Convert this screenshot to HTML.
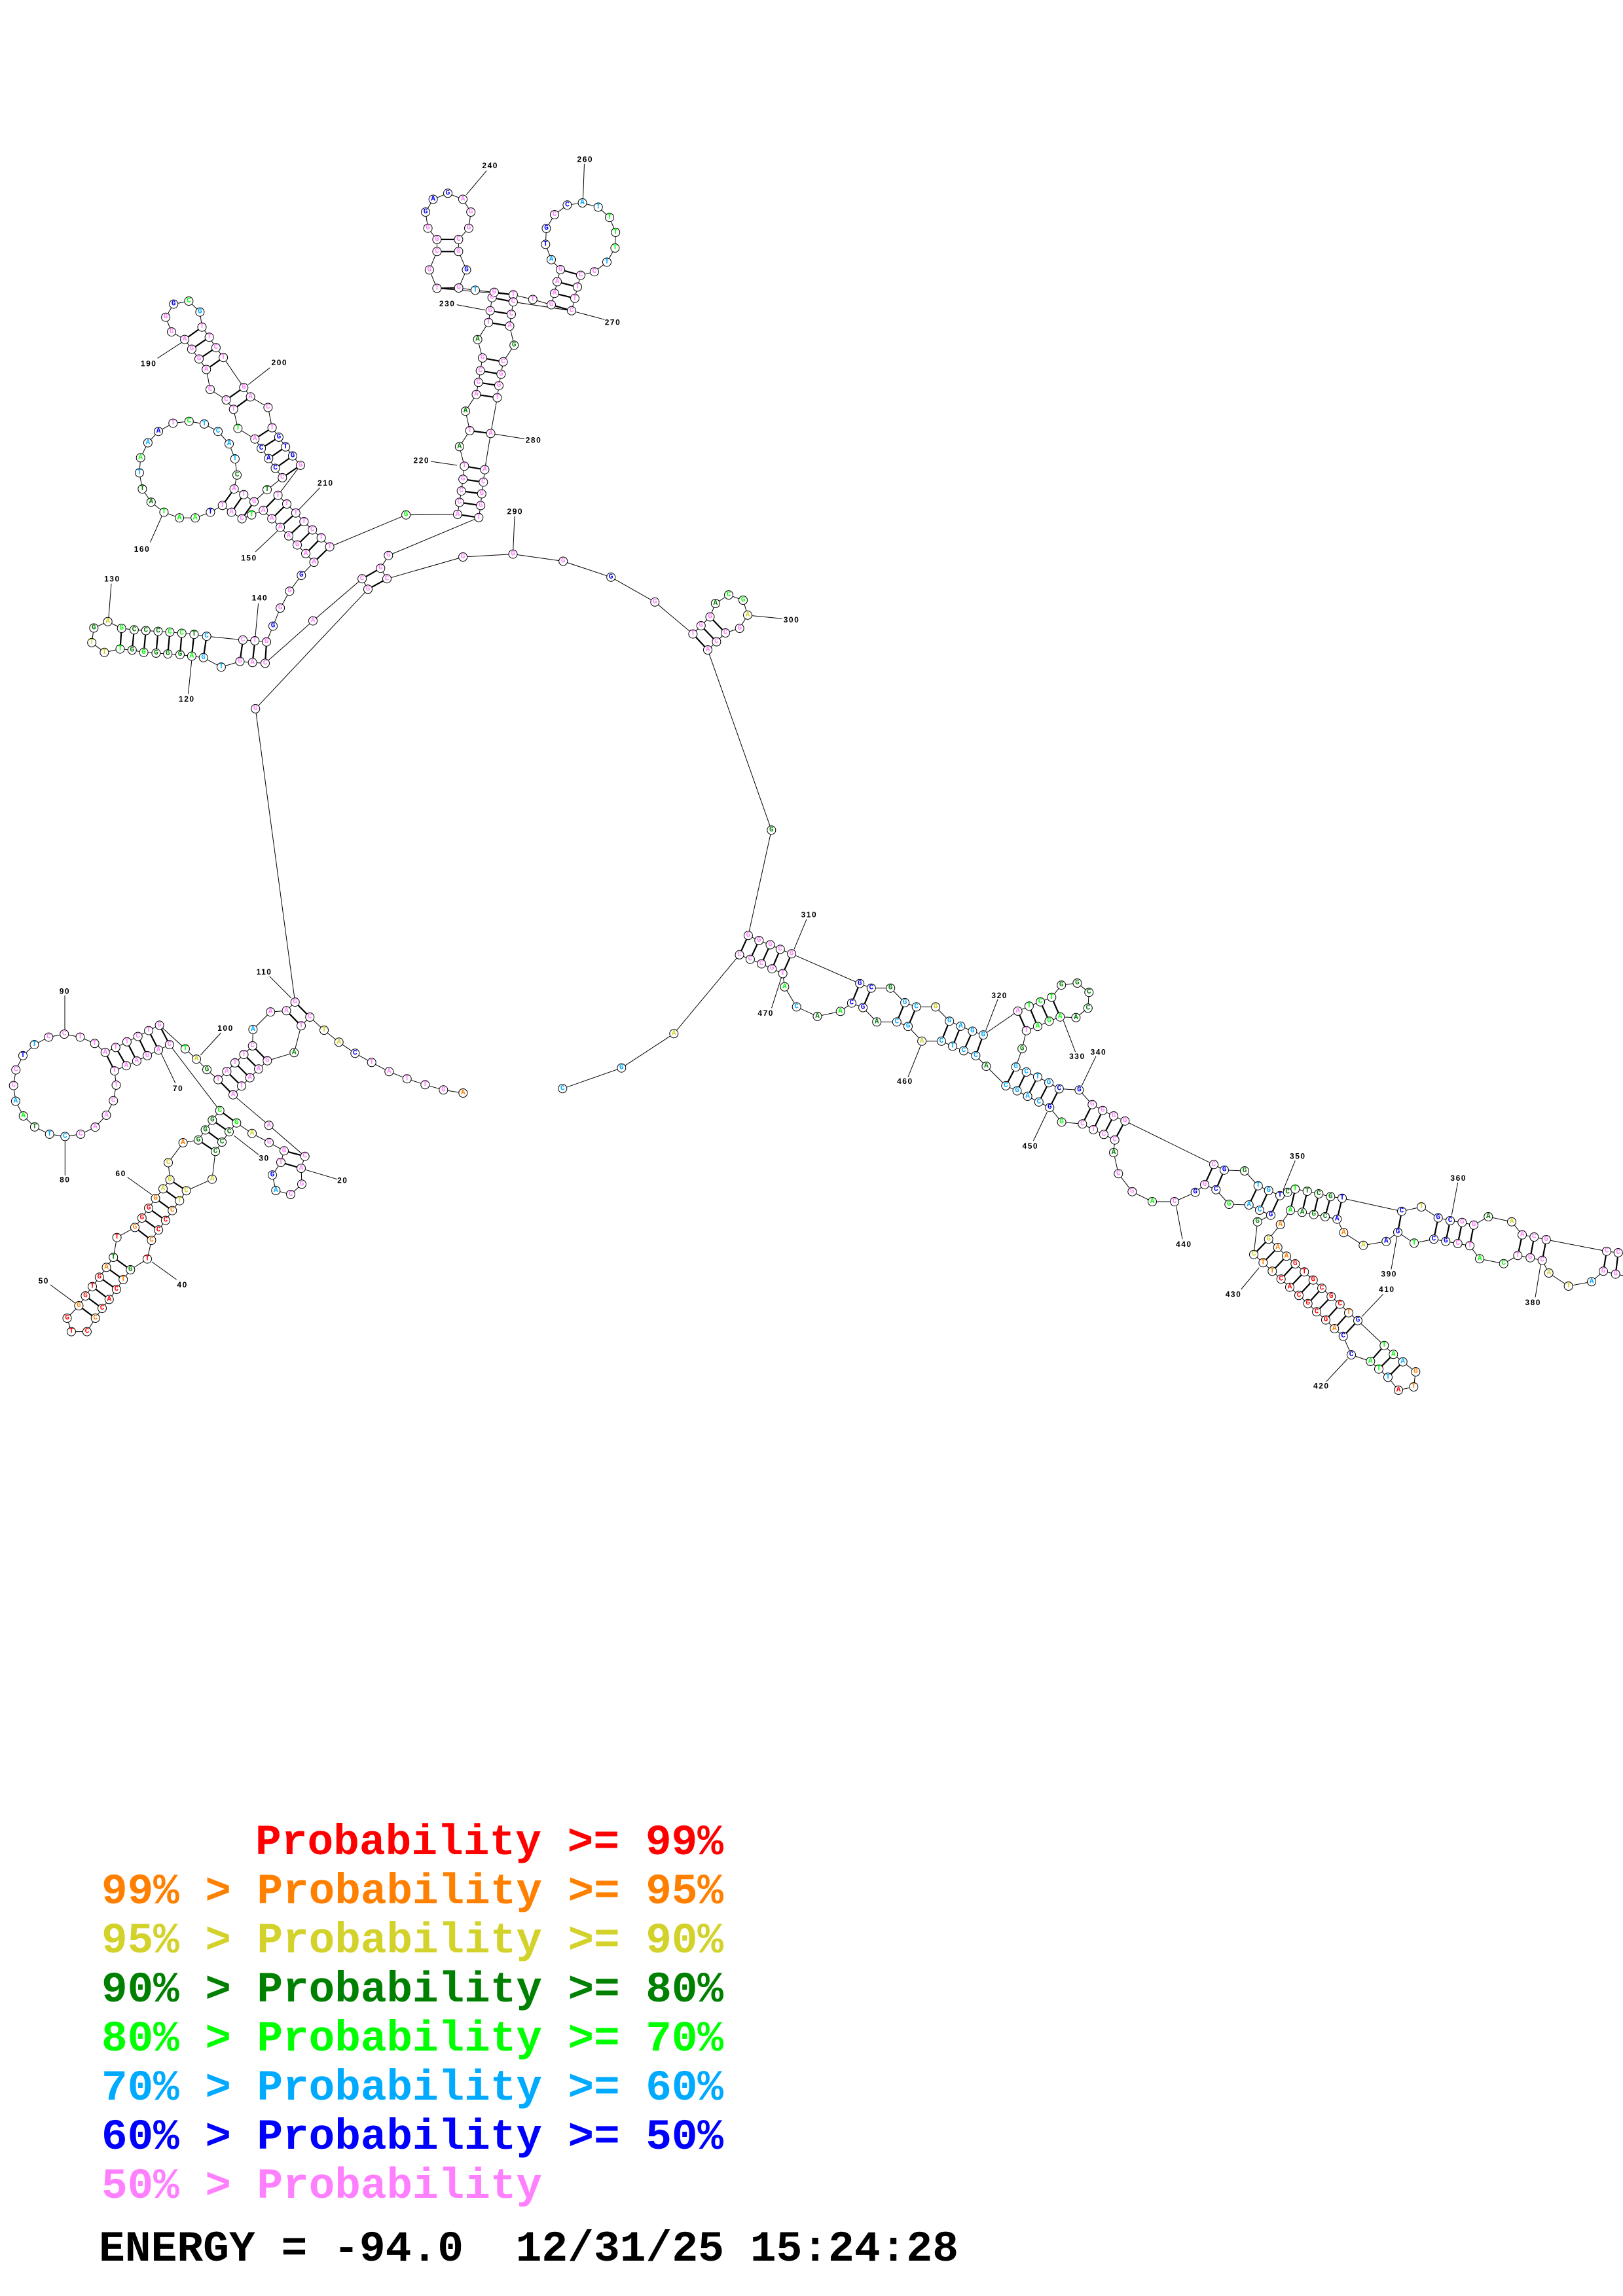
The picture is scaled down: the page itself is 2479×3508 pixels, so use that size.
<!DOCTYPE html>
<html><head><meta charset="utf-8"><title>RNA structure</title>
<style>
html,body{margin:0;padding:0;background:#fff;}
svg{display:block;}
.bb{fill:none;stroke:#000;stroke-width:1;}
.pr{fill:none;stroke:#000;stroke-width:2.2;}
.ll{fill:none;stroke:#000;stroke-width:1;}
.nc circle{fill:#fff;stroke:#000;stroke-width:1;}
.nt text{font-family:"Liberation Mono",monospace;font-weight:bold;font-size:11px;text-anchor:middle;dominant-baseline:central;}
.lb text{font-family:"Liberation Sans",sans-serif;font-weight:bold;font-size:12px;text-anchor:middle;dominant-baseline:central;letter-spacing:1.5px;fill:#000;}
.lg text{font-family:"Liberation Mono",monospace;font-weight:bold;font-size:66px;white-space:pre;}
.p{fill:#ff80ff}.b{fill:#0000ff}.s{fill:#00aaff}.l{fill:#00ff00}.g{fill:#008000}.y{fill:#d2d22a}.o{fill:#ff8000}.r{fill:#ff0000}.k{fill:#000}
</style></head>
<body>
<svg width="2479" height="3508" viewBox="0 0 2479 3508" xmlns="http://www.w3.org/2000/svg">
<rect width="2479" height="3508" fill="#fff"/>
<polyline class="bb" points="707.3,1670 677.3,1665.3 649.3,1657.3 621.7,1648.3 594.3,1637.3 567.7,1623.3 542.3,1609.3 517.7,1592.3 495,1574 473.3,1554 460,1567.3 449.3,1608.3 408.3,1620.7 395,1633.3 381.7,1646.7 369,1659.3 356,1672.7 410.7,1719.3 465.7,1766.7 460,1785 461,1809.3 444,1825 421.3,1819 416,1795.3 429,1776 434,1758.3 411,1745.7 385,1731.7 361.3,1715.7 350,1729.3 339,1745 329,1759.3 324,1801.7 284.6,1819.3 274.3,1834.6 263.2,1849.6 252.9,1864.6 242.1,1879.3 231.4,1895 225,1923.6 199.3,1940 188.2,1955 177.9,1970 166.8,1985.4 156,1999 145.7,2014 132.9,2034.6 109,2034.6 102.5,2014 120.4,1995 130.4,1980 141,1965.7 151.8,1951.4 162.5,1936.4 173.2,1921 178.6,1890.7 206,1875.4 216.8,1861 227,1846 237.5,1831 249,1816.4 259.6,1802.5 257,1776.4 279.6,1746 302.9,1741.8 313.6,1726.4 324.3,1711.4 335.7,1696.8 258.9,1596.1 242.1,1604.3 225,1612.9 208.9,1621.1 192.9,1628.2 175,1636.1 177.5,1657.9 173.2,1681.8 162.5,1703.9 145.4,1722.1 123.2,1732.9 99.3,1736.4 75.7,1732.9 52.9,1721.8 35.7,1705 23.9,1682.5 20.7,1658.6 24.3,1634.6 35,1612.9 52.5,1596.1 74.3,1584.6 98.2,1580 122.5,1584.6 144.6,1594.3 160.7,1607.9 176.8,1600.4 193.9,1591.8 210.7,1583.6 227.1,1574.6 243.6,1566.4 282.9,1602.5 300,1618.2 316,1634.3 333.2,1649.6 346.4,1637.1 358.9,1623.9 372.5,1611.1 385.7,1597.9 386.4,1572.9 413.2,1546.1 437.5,1544.3 450.7,1531.1 390.2,1082.9 562,900.3 553.1,884.3 478,948.6 405,1013.4 385.7,1012.3 366.5,1010.6 337.9,1019.2 310.7,1004.8 292.9,1002.5 275,1000.2 256.3,999.1 238.4,997.9 219.6,996.8 201.8,993.3 183.5,991.6 159.4,996.8 140.2,981.9 143.3,959.5 164.7,949.7 185.7,960 204.9,962.3 222.8,963.5 241.5,964.6 259.4,965.8 277.7,967.5 296.4,969.2 315.6,972.1 371,977.8 389.3,979 407.1,980.7 417,956.6 428.1,929 442.4,903.2 460.3,879.1 479.5,859 467,845.8 454,832.6 441,818.8 428.1,805.6 415.2,792.6 402.2,779.8 384.4,786.7 369.6,792.6 353.6,782.6 339.7,772.3 321.4,782.6 298.2,791.3 274.1,791.3 250.4,782.6 230.8,767.2 217.4,747.1 212.9,722.4 214.7,699.4 225.9,676.5 242,659.2 264.3,646.6 288.8,643.7 312,647.8 333,659.2 350,678.2 358.9,701.1 362,725.8 357.6,747.1 372.3,755.7 388,766.6 408,748.2 431.3,729.9 420.5,715.5 410.3,700.6 399.1,685.1 389.3,670.7 363.4,654.6 356.7,625.4 345.5,611 321,595 315.2,564.5 304,548.5 292.9,533.5 282.1,518.6 262,507.1 253.1,484.7 265.2,464.6 288.4,460 305.4,476.7 308.5,499.7 319.6,515.2 329.9,531.2 341.1,546.2 372.3,592.1 382.6,606.4 409.4,622.5 415.6,653.5 425.9,667.9 436.2,682.8 446.9,696.6 458.9,710.9 424.6,756.8 438,770 451.8,783.8 464.3,797 477.2,809.6 490.6,821.7 503.6,835.5 620.1,786.7 698.9,785.9 701.8,767.5 704.7,750.1 707.2,732.2 709.3,712.2 701.8,682.4 717.6,658 711,628.2 727.5,602.7 730.8,584.3 733.7,566.4 737,546.9 729.6,518.7 746.2,492.7 748.7,474.8 751.6,454.7 754.9,446.6 725.9,443.4 700.6,440 712.5,412.4 700.4,384.3 700.4,365.9 716,348.7 719.2,324 707,304.5 684,295.3 661.6,304.5 650,324 653.6,348.7 667.4,365.9 667.4,384.3 655.8,412.4 667.4,440.5 783.9,450.4 813.8,457.5 842,465.6 847,448.2 851,430.4 856,412 842,396.7 833.3,373.4 834.5,349 847,328 866.4,313.3 889.6,310 913.7,316.5 931,332.2 940.2,355 939.4,378.9 927,400.5 907.9,415.2 887,420.6 882,438.5 878,455.8 873,474.8 783.9,461.2 781,480.2 778.5,498.1 785.2,527.4 768.6,552.8 765.3,571.8 762,589.2 759.5,607.6 749.5,662.3 740.4,717.6 738.3,736.6 735.8,754.5 734.2,772.4 731.3,790.8 593.3,848.7 581.3,868.2 591,884.3 707.1,851 783.5,846.6 860.2,857.5 933.2,881.8 1000.3,919.8 1058.4,968.6 1070.8,956 1084.5,942.5 1092.8,922 1113,909 1135,917 1142,939.8 1129.7,960 1108,967 1094.4,980.5 1081,993 1178.3,1268.3 1142.9,1429.3 1159.3,1437 1176.5,1443.5 1191.8,1450.4 1209.1,1457.3 1313.2,1502.8 1330.8,1509.7 1360.2,1509.7 1382.1,1531.9 1399.7,1538.4 1429.1,1538.4 1450.2,1560.2 1467.4,1567.9 1485.4,1575.5 1501.8,1581.3 1554.6,1544.9 1571.9,1537.2 1589.1,1530.7 1606.3,1523.8 1621.2,1505.1 1645.4,1502 1663.3,1516.2 1661.8,1540.3 1643.4,1554.8 1619.3,1553.7 1602.5,1560.2 1584.9,1568.2 1567.7,1574.7 1561.2,1602.3 1551.6,1630.2 1567.7,1637.9 1584.9,1645.5 1602.1,1654.3 1617.8,1663.5 1648.4,1665.4 1668.3,1687.7 1684.3,1696.7 1701,1705 1718.3,1712.7 1854,1779.3 1870,1787.7 1901,1789 1921.7,1811.7 1937.7,1819 1955,1826.7 1966.7,1821.7 1978.3,1816.7 1996.7,1820 2014.3,1824 2032.3,1828.3 2050,1830.7 2141,1850.7 2171,1844 2196.7,1860.7 2215,1865 2233.3,1867.7 2251,1871.7 2273.3,1859 2309,1866.7 2325,1886.7 2343.3,1890 2361.7,1894 2454,1911.7 2471.7,1914 2490,1917 2508,1921 2516,1935 2504,1948 2486,1950 2467.7,1946.7 2449,1942.3 2431,1958.3 2395.7,1965 2365.7,1945 2355.7,1925.7 2337.3,1921.7 2318.3,1918.3 2296.7,1930.7 2260,1923.3 2245,1903.3 2226.7,1900 2208.3,1896.7 2190,1893.3 2160,1899.3 2135,1882.7 2117.3,1896.7 2082.3,1902.7 2052.3,1883.3 2042.3,1862.7 2024,1859 2006.7,1855.7 1989,1852.3 1971,1849.3 1955.7,1871 1937.7,1893.3 1951.7,1906 1965,1919.3 1978.3,1931 1992.3,1943.3 2005.7,1955.7 2019,1968.3 2033.3,1981 2046.7,1992.7 2060,2005.7 2074,2017.7 2114.3,2055.7 2128.3,2069.3 2142.7,2080.7 2162.3,2096 2159.3,2119 2136,2124 2120,2104.3 2106,2091.7 2093.3,2080 2064,2070 2051.7,2041.7 2038.3,2030 2025,2016.7 2011,2004.3 1997.7,1991.7 1984,1979.3 1970,1966.7 1956.7,1954.3 1943.3,1942.3 1929.3,1929.3 1915,1916.7 1920.7,1866.7 1941,1856.7 1924,1849 1907.7,1841 1877.3,1840 1857.3,1817.7 1840,1810 1825.7,1821.7 1794,1836 1760,1836 1729.3,1820.7 1708.3,1793.3 1701,1761 1702.7,1741.7 1686,1733.3 1670,1726 1653.3,1717.3 1621.6,1714.4 1603.3,1692.2 1586.8,1683.8 1569.6,1675 1553.5,1666.6 1536.3,1658.9 1506.4,1629.1 1490.4,1613 1472,1605.4 1455.1,1598.5 1437.9,1590.8 1408.1,1590.8 1387,1568.2 1369.8,1561.4 1339.2,1561.4 1318.1,1539.5 1300.9,1532.6 1283.7,1545.3 1248.5,1552.9 1216.7,1538.4 1198.4,1507.8 1195.7,1487.5 1179.2,1480.2 1163.1,1472.6 1145.9,1465.7 1129.5,1458.8 1029.3,1579.3 949.3,1631.7 859.3,1663.3"/>
<path class="pr" d="M473.3 1554L450.7 1531.1M460 1567.3L437.5 1544.3M408.3 1620.7L385.7 1597.9M395 1633.3L372.5 1611.1M381.7 1646.7L358.9 1623.9M369 1659.3L346.4 1637.1M356 1672.7L333.2 1649.6M465.7 1766.7L434 1758.3M460 1785L429 1776M361.3 1715.7L335.7 1696.8M350 1729.3L324.3 1711.4M339 1745L313.6 1726.4M329 1759.3L302.9 1741.8M284.6 1819.3L259.6 1802.5M274.3 1834.6L249 1816.4M263.2 1849.6L237.5 1831M252.9 1864.6L227 1846M242.1 1879.3L216.8 1861M231.4 1895L206 1875.4M199.3 1940L173.2 1921M188.2 1955L162.5 1936.4M177.9 1970L151.8 1951.4M166.8 1985.4L141 1965.7M156 1999L130.4 1980M145.7 2014L120.4 1995M258.9 1596.1L243.6 1566.4M242.1 1604.3L227.1 1574.6M225 1612.9L210.7 1583.6M208.9 1621.1L193.9 1591.8M192.9 1628.2L176.8 1600.4M175 1636.1L160.7 1607.9M405 1013.4L407.1 980.7M385.7 1012.3L389.3 979M366.5 1010.6L371 977.8M310.7 1004.8L315.6 972.1M292.9 1002.5L296.4 969.2M275 1000.2L277.7 967.5M256.3 999.1L259.4 965.8M238.4 997.9L241.5 964.6M219.6 996.8L222.8 963.5M201.8 993.3L204.9 962.3M183.5 991.6L185.7 960M479.5 859L503.6 835.5M467 845.8L490.6 821.7M454 832.6L477.2 809.6M441 818.8L464.3 797M428.1 805.6L451.8 783.8M415.2 792.6L438 770M402.2 779.8L424.6 756.8M369.6 792.6L388 766.6M353.6 782.6L372.3 755.7M339.7 772.3L357.6 747.1M431.3 729.9L458.9 710.9M420.5 715.5L446.9 696.6M410.3 700.6L436.2 682.8M399.1 685.1L425.9 667.9M389.3 670.7L415.6 653.5M356.7 625.4L382.6 606.4M345.5 611L372.3 592.1M315.2 564.5L341.1 546.2M304 548.5L329.9 531.2M292.9 533.5L319.6 515.2M282.1 518.6L308.5 499.7M562 900.3L591 884.3M553.1 884.3L581.3 868.2M698.9 785.9L731.3 790.8M701.8 767.5L734.2 772.4M704.7 750.1L735.8 754.5M707.2 732.2L738.3 736.6M709.3 712.2L740.4 717.6M717.6 658L749.5 662.3M727.5 602.7L759.5 607.6M730.8 584.3L762 589.2M733.7 566.4L765.3 571.8M737 546.9L768.6 552.8M746.2 492.7L778.5 498.1M748.7 474.8L781 480.2M751.6 454.7L783.9 461.2M754.9 446.6L783.9 450.4M700.6 440L667.4 440.5M700.4 384.3L667.4 384.3M700.4 365.9L667.4 365.9M842 465.6L873 474.8M847 448.2L878 455.8M851 430.4L882 438.5M856 412L887 420.6M1058.4 968.6L1081 993M1070.8 956L1094.4 980.5M1084.5 942.5L1108 967M1142.9 1429.3L1129.5 1458.8M1159.3 1437L1145.9 1465.7M1176.5 1443.5L1163.1 1472.6M1191.8 1450.4L1179.2 1480.2M1209.1 1457.3L1195.7 1487.5M1313.2 1502.8L1300.9 1532.6M1330.8 1509.7L1318.1 1539.5M1382.1 1531.9L1369.8 1561.4M1399.7 1538.4L1387 1568.2M1450.2 1560.2L1437.9 1590.8M1467.4 1567.9L1455.1 1598.5M1485.4 1575.5L1472 1605.4M1501.8 1581.3L1490.4 1613M1554.6 1544.9L1567.7 1574.7M1571.9 1537.2L1584.9 1568.2M1589.1 1530.7L1602.5 1560.2M1606.3 1523.8L1619.3 1553.7M1551.6 1630.2L1536.3 1658.9M1567.7 1637.9L1553.5 1666.6M1584.9 1645.5L1569.6 1675M1602.1 1654.3L1586.8 1683.8M1617.8 1663.5L1603.3 1692.2M1668.3 1687.7L1653.3 1717.3M1684.3 1696.7L1670 1726M1701 1705L1686 1733.3M1718.3 1712.7L1702.7 1741.7M1854 1779.3L1840 1810M1870 1787.7L1857.3 1817.7M1921.7 1811.7L1907.7 1841M1937.7 1819L1924 1849M1955 1826.7L1941 1856.7M1978.3 1816.7L1971 1849.3M1996.7 1820L1989 1852.3M2014.3 1824L2006.7 1855.7M2032.3 1828.3L2024 1859M2050 1830.7L2042.3 1862.7M2141 1850.7L2135 1882.7M2196.7 1860.7L2190 1893.3M2215 1865L2208.3 1896.7M2233.3 1867.7L2226.7 1900M2251 1871.7L2245 1903.3M2325 1886.7L2318.3 1918.3M2343.3 1890L2337.3 1921.7M2361.7 1894L2355.7 1925.7M2454 1911.7L2449 1942.3M2471.7 1914L2467.7 1946.7M1937.7 1893.3L1915 1916.7M1951.7 1906L1929.3 1929.3M1965 1919.3L1943.3 1942.3M1978.3 1931L1956.7 1954.3M1992.3 1943.3L1970 1966.7M2005.7 1955.7L1984 1979.3M2019 1968.3L1997.7 1991.7M2033.3 1981L2011 2004.3M2046.7 1992.7L2025 2016.7M2060 2005.7L2038.3 2030M2074 2017.7L2051.7 2041.7M2114.3 2055.7L2093.3 2080M2128.3 2069.3L2106 2091.7M2142.7 2080.7L2120 2104.3"/>
<path class="ll" d="M466.7 1787.3L515 1801.7M357.3 1735L395 1764.3M232 1928L269.6 1955M76.8 1962.9L114.3 1990.7M194.6 1798.6L232 1825.4M246.4 1610L267.9 1655M99.3 1743.6L99.3 1796M99 1521L99 1573M306.4 1612L337.5 1578M411.7 1491.7L445 1525M292.9 1008L287.5 1060M170 891.7L166 943M394.6 922L390 972M390.2 843L423.7 811.4M229.5 828.6L247.3 788.4M240.6 547.3L278.6 522.6M412.5 561.7L379.4 587.5M488.4 745.4L452.7 782.6M658 705L698.2 710.9M697.7 465.6L741.2 473.7M743.3 260.7L712.2 297.6M892.5 250.4L890.5 303M873 474.8L923.6 488.3M749.5 662.3L801.3 670.5M786 789L783.5 846.6M1142 940L1195 945.3M1232 1404.4L1212.9 1450.4M1524 1526.9L1505.6 1574.7M1642.6 1607.3L1624.3 1559.4M1674 1613.8L1652.2 1659M1978.3 1773.3L1960 1818.3M2226.7 1806.7L2217.3 1856.7M2345 1982.3L2353.3 1931.7M2125 1939.3L2134 1888.3M2112.7 1977.3L2080 2011.7M2026 2110.7L2058.3 2076M1895.7 1970L1923.3 1936.7M1796.7 1843.3L1806 1893.3M1578.4 1743.1L1599.4 1699.1M1387 1645.5L1406.2 1597.7M1178.5 1540.3L1193.8 1492.5"/>
<g class="nc">
<circle cx="707.3" cy="1670" r="6.5"/><circle cx="677.3" cy="1665.3" r="6.5"/><circle cx="649.3" cy="1657.3" r="6.5"/><circle cx="621.7" cy="1648.3" r="6.5"/><circle cx="594.3" cy="1637.3" r="6.5"/><circle cx="567.7" cy="1623.3" r="6.5"/><circle cx="542.3" cy="1609.3" r="6.5"/><circle cx="517.7" cy="1592.3" r="6.5"/><circle cx="495" cy="1574" r="6.5"/><circle cx="473.3" cy="1554" r="6.5"/>
<circle cx="460" cy="1567.3" r="6.5"/><circle cx="449.3" cy="1608.3" r="6.5"/><circle cx="408.3" cy="1620.7" r="6.5"/><circle cx="395" cy="1633.3" r="6.5"/><circle cx="381.7" cy="1646.7" r="6.5"/><circle cx="369" cy="1659.3" r="6.5"/><circle cx="356" cy="1672.7" r="6.5"/><circle cx="410.7" cy="1719.3" r="6.5"/><circle cx="465.7" cy="1766.7" r="6.5"/><circle cx="460" cy="1785" r="6.5"/>
<circle cx="461" cy="1809.3" r="6.5"/><circle cx="444" cy="1825" r="6.5"/><circle cx="421.3" cy="1819" r="6.5"/><circle cx="416" cy="1795.3" r="6.5"/><circle cx="429" cy="1776" r="6.5"/><circle cx="434" cy="1758.3" r="6.5"/><circle cx="411" cy="1745.7" r="6.5"/><circle cx="385" cy="1731.7" r="6.5"/><circle cx="361.3" cy="1715.7" r="6.5"/><circle cx="350" cy="1729.3" r="6.5"/>
<circle cx="339" cy="1745" r="6.5"/><circle cx="329" cy="1759.3" r="6.5"/><circle cx="324" cy="1801.7" r="6.5"/><circle cx="284.6" cy="1819.3" r="6.5"/><circle cx="274.3" cy="1834.6" r="6.5"/><circle cx="263.2" cy="1849.6" r="6.5"/><circle cx="252.9" cy="1864.6" r="6.5"/><circle cx="242.1" cy="1879.3" r="6.5"/><circle cx="231.4" cy="1895" r="6.5"/><circle cx="225" cy="1923.6" r="6.5"/>
<circle cx="199.3" cy="1940" r="6.5"/><circle cx="188.2" cy="1955" r="6.5"/><circle cx="177.9" cy="1970" r="6.5"/><circle cx="166.8" cy="1985.4" r="6.5"/><circle cx="156" cy="1999" r="6.5"/><circle cx="145.7" cy="2014" r="6.5"/><circle cx="132.9" cy="2034.6" r="6.5"/><circle cx="109" cy="2034.6" r="6.5"/><circle cx="102.5" cy="2014" r="6.5"/><circle cx="120.4" cy="1995" r="6.5"/>
<circle cx="130.4" cy="1980" r="6.5"/><circle cx="141" cy="1965.7" r="6.5"/><circle cx="151.8" cy="1951.4" r="6.5"/><circle cx="162.5" cy="1936.4" r="6.5"/><circle cx="173.2" cy="1921" r="6.5"/><circle cx="178.6" cy="1890.7" r="6.5"/><circle cx="206" cy="1875.4" r="6.5"/><circle cx="216.8" cy="1861" r="6.5"/><circle cx="227" cy="1846" r="6.5"/><circle cx="237.5" cy="1831" r="6.5"/>
<circle cx="249" cy="1816.4" r="6.5"/><circle cx="259.6" cy="1802.5" r="6.5"/><circle cx="257" cy="1776.4" r="6.5"/><circle cx="279.6" cy="1746" r="6.5"/><circle cx="302.9" cy="1741.8" r="6.5"/><circle cx="313.6" cy="1726.4" r="6.5"/><circle cx="324.3" cy="1711.4" r="6.5"/><circle cx="335.7" cy="1696.8" r="6.5"/><circle cx="258.9" cy="1596.1" r="6.5"/><circle cx="242.1" cy="1604.3" r="6.5"/>
<circle cx="225" cy="1612.9" r="6.5"/><circle cx="208.9" cy="1621.1" r="6.5"/><circle cx="192.9" cy="1628.2" r="6.5"/><circle cx="175" cy="1636.1" r="6.5"/><circle cx="177.5" cy="1657.9" r="6.5"/><circle cx="173.2" cy="1681.8" r="6.5"/><circle cx="162.5" cy="1703.9" r="6.5"/><circle cx="145.4" cy="1722.1" r="6.5"/><circle cx="123.2" cy="1732.9" r="6.5"/><circle cx="99.3" cy="1736.4" r="6.5"/>
<circle cx="75.7" cy="1732.9" r="6.5"/><circle cx="52.9" cy="1721.8" r="6.5"/><circle cx="35.7" cy="1705" r="6.5"/><circle cx="23.9" cy="1682.5" r="6.5"/><circle cx="20.7" cy="1658.6" r="6.5"/><circle cx="24.3" cy="1634.6" r="6.5"/><circle cx="35" cy="1612.9" r="6.5"/><circle cx="52.5" cy="1596.1" r="6.5"/><circle cx="74.3" cy="1584.6" r="6.5"/><circle cx="98.2" cy="1580" r="6.5"/>
<circle cx="122.5" cy="1584.6" r="6.5"/><circle cx="144.6" cy="1594.3" r="6.5"/><circle cx="160.7" cy="1607.9" r="6.5"/><circle cx="176.8" cy="1600.4" r="6.5"/><circle cx="193.9" cy="1591.8" r="6.5"/><circle cx="210.7" cy="1583.6" r="6.5"/><circle cx="227.1" cy="1574.6" r="6.5"/><circle cx="243.6" cy="1566.4" r="6.5"/><circle cx="282.9" cy="1602.5" r="6.5"/><circle cx="300" cy="1618.2" r="6.5"/>
<circle cx="316" cy="1634.3" r="6.5"/><circle cx="333.2" cy="1649.6" r="6.5"/><circle cx="346.4" cy="1637.1" r="6.5"/><circle cx="358.9" cy="1623.9" r="6.5"/><circle cx="372.5" cy="1611.1" r="6.5"/><circle cx="385.7" cy="1597.9" r="6.5"/><circle cx="386.4" cy="1572.9" r="6.5"/><circle cx="413.2" cy="1546.1" r="6.5"/><circle cx="437.5" cy="1544.3" r="6.5"/><circle cx="450.7" cy="1531.1" r="6.5"/>
<circle cx="390.2" cy="1082.9" r="6.5"/><circle cx="562" cy="900.3" r="6.5"/><circle cx="553.1" cy="884.3" r="6.5"/><circle cx="478" cy="948.6" r="6.5"/><circle cx="405" cy="1013.4" r="6.5"/><circle cx="385.7" cy="1012.3" r="6.5"/><circle cx="366.5" cy="1010.6" r="6.5"/><circle cx="337.9" cy="1019.2" r="6.5"/><circle cx="310.7" cy="1004.8" r="6.5"/><circle cx="292.9" cy="1002.5" r="6.5"/>
<circle cx="275" cy="1000.2" r="6.5"/><circle cx="256.3" cy="999.1" r="6.5"/><circle cx="238.4" cy="997.9" r="6.5"/><circle cx="219.6" cy="996.8" r="6.5"/><circle cx="201.8" cy="993.3" r="6.5"/><circle cx="183.5" cy="991.6" r="6.5"/><circle cx="159.4" cy="996.8" r="6.5"/><circle cx="140.2" cy="981.9" r="6.5"/><circle cx="143.3" cy="959.5" r="6.5"/><circle cx="164.7" cy="949.7" r="6.5"/>
<circle cx="185.7" cy="960" r="6.5"/><circle cx="204.9" cy="962.3" r="6.5"/><circle cx="222.8" cy="963.5" r="6.5"/><circle cx="241.5" cy="964.6" r="6.5"/><circle cx="259.4" cy="965.8" r="6.5"/><circle cx="277.7" cy="967.5" r="6.5"/><circle cx="296.4" cy="969.2" r="6.5"/><circle cx="315.6" cy="972.1" r="6.5"/><circle cx="371" cy="977.8" r="6.5"/><circle cx="389.3" cy="979" r="6.5"/>
<circle cx="407.1" cy="980.7" r="6.5"/><circle cx="417" cy="956.6" r="6.5"/><circle cx="428.1" cy="929" r="6.5"/><circle cx="442.4" cy="903.2" r="6.5"/><circle cx="460.3" cy="879.1" r="6.5"/><circle cx="479.5" cy="859" r="6.5"/><circle cx="467" cy="845.8" r="6.5"/><circle cx="454" cy="832.6" r="6.5"/><circle cx="441" cy="818.8" r="6.5"/><circle cx="428.1" cy="805.6" r="6.5"/>
<circle cx="415.2" cy="792.6" r="6.5"/><circle cx="402.2" cy="779.8" r="6.5"/><circle cx="384.4" cy="786.7" r="6.5"/><circle cx="369.6" cy="792.6" r="6.5"/><circle cx="353.6" cy="782.6" r="6.5"/><circle cx="339.7" cy="772.3" r="6.5"/><circle cx="321.4" cy="782.6" r="6.5"/><circle cx="298.2" cy="791.3" r="6.5"/><circle cx="274.1" cy="791.3" r="6.5"/><circle cx="250.4" cy="782.6" r="6.5"/>
<circle cx="230.8" cy="767.2" r="6.5"/><circle cx="217.4" cy="747.1" r="6.5"/><circle cx="212.9" cy="722.4" r="6.5"/><circle cx="214.7" cy="699.4" r="6.5"/><circle cx="225.9" cy="676.5" r="6.5"/><circle cx="242" cy="659.2" r="6.5"/><circle cx="264.3" cy="646.6" r="6.5"/><circle cx="288.8" cy="643.7" r="6.5"/><circle cx="312" cy="647.8" r="6.5"/><circle cx="333" cy="659.2" r="6.5"/>
<circle cx="350" cy="678.2" r="6.5"/><circle cx="358.9" cy="701.1" r="6.5"/><circle cx="362" cy="725.8" r="6.5"/><circle cx="357.6" cy="747.1" r="6.5"/><circle cx="372.3" cy="755.7" r="6.5"/><circle cx="388" cy="766.6" r="6.5"/><circle cx="408" cy="748.2" r="6.5"/><circle cx="431.3" cy="729.9" r="6.5"/><circle cx="420.5" cy="715.5" r="6.5"/><circle cx="410.3" cy="700.6" r="6.5"/>
<circle cx="399.1" cy="685.1" r="6.5"/><circle cx="389.3" cy="670.7" r="6.5"/><circle cx="363.4" cy="654.6" r="6.5"/><circle cx="356.7" cy="625.4" r="6.5"/><circle cx="345.5" cy="611" r="6.5"/><circle cx="321" cy="595" r="6.5"/><circle cx="315.2" cy="564.5" r="6.5"/><circle cx="304" cy="548.5" r="6.5"/><circle cx="292.9" cy="533.5" r="6.5"/><circle cx="282.1" cy="518.6" r="6.5"/>
<circle cx="262" cy="507.1" r="6.5"/><circle cx="253.1" cy="484.7" r="6.5"/><circle cx="265.2" cy="464.6" r="6.5"/><circle cx="288.4" cy="460" r="6.5"/><circle cx="305.4" cy="476.7" r="6.5"/><circle cx="308.5" cy="499.7" r="6.5"/><circle cx="319.6" cy="515.2" r="6.5"/><circle cx="329.9" cy="531.2" r="6.5"/><circle cx="341.1" cy="546.2" r="6.5"/><circle cx="372.3" cy="592.1" r="6.5"/>
<circle cx="382.6" cy="606.4" r="6.5"/><circle cx="409.4" cy="622.5" r="6.5"/><circle cx="415.6" cy="653.5" r="6.5"/><circle cx="425.9" cy="667.9" r="6.5"/><circle cx="436.2" cy="682.8" r="6.5"/><circle cx="446.9" cy="696.6" r="6.5"/><circle cx="458.9" cy="710.9" r="6.5"/><circle cx="424.6" cy="756.8" r="6.5"/><circle cx="438" cy="770" r="6.5"/><circle cx="451.8" cy="783.8" r="6.5"/>
<circle cx="464.3" cy="797" r="6.5"/><circle cx="477.2" cy="809.6" r="6.5"/><circle cx="490.6" cy="821.7" r="6.5"/><circle cx="503.6" cy="835.5" r="6.5"/><circle cx="620.1" cy="786.7" r="6.5"/><circle cx="698.9" cy="785.9" r="6.5"/><circle cx="701.8" cy="767.5" r="6.5"/><circle cx="704.7" cy="750.1" r="6.5"/><circle cx="707.2" cy="732.2" r="6.5"/><circle cx="709.3" cy="712.2" r="6.5"/>
<circle cx="701.8" cy="682.4" r="6.5"/><circle cx="717.6" cy="658" r="6.5"/><circle cx="711" cy="628.2" r="6.5"/><circle cx="727.5" cy="602.7" r="6.5"/><circle cx="730.8" cy="584.3" r="6.5"/><circle cx="733.7" cy="566.4" r="6.5"/><circle cx="737" cy="546.9" r="6.5"/><circle cx="729.6" cy="518.7" r="6.5"/><circle cx="746.2" cy="492.7" r="6.5"/><circle cx="748.7" cy="474.8" r="6.5"/>
<circle cx="751.6" cy="454.7" r="6.5"/><circle cx="754.9" cy="446.6" r="6.5"/><circle cx="725.9" cy="443.4" r="6.5"/><circle cx="700.6" cy="440" r="6.5"/><circle cx="712.5" cy="412.4" r="6.5"/><circle cx="700.4" cy="384.3" r="6.5"/><circle cx="700.4" cy="365.9" r="6.5"/><circle cx="716" cy="348.7" r="6.5"/><circle cx="719.2" cy="324" r="6.5"/><circle cx="707" cy="304.5" r="6.5"/>
<circle cx="684" cy="295.3" r="6.5"/><circle cx="661.6" cy="304.5" r="6.5"/><circle cx="650" cy="324" r="6.5"/><circle cx="653.6" cy="348.7" r="6.5"/><circle cx="667.4" cy="365.9" r="6.5"/><circle cx="667.4" cy="384.3" r="6.5"/><circle cx="655.8" cy="412.4" r="6.5"/><circle cx="667.4" cy="440.5" r="6.5"/><circle cx="783.9" cy="450.4" r="6.5"/><circle cx="813.8" cy="457.5" r="6.5"/>
<circle cx="842" cy="465.6" r="6.5"/><circle cx="847" cy="448.2" r="6.5"/><circle cx="851" cy="430.4" r="6.5"/><circle cx="856" cy="412" r="6.5"/><circle cx="842" cy="396.7" r="6.5"/><circle cx="833.3" cy="373.4" r="6.5"/><circle cx="834.5" cy="349" r="6.5"/><circle cx="847" cy="328" r="6.5"/><circle cx="866.4" cy="313.3" r="6.5"/><circle cx="889.6" cy="310" r="6.5"/>
<circle cx="913.7" cy="316.5" r="6.5"/><circle cx="931" cy="332.2" r="6.5"/><circle cx="940.2" cy="355" r="6.5"/><circle cx="939.4" cy="378.9" r="6.5"/><circle cx="927" cy="400.5" r="6.5"/><circle cx="907.9" cy="415.2" r="6.5"/><circle cx="887" cy="420.6" r="6.5"/><circle cx="882" cy="438.5" r="6.5"/><circle cx="878" cy="455.8" r="6.5"/><circle cx="873" cy="474.8" r="6.5"/>
<circle cx="783.9" cy="461.2" r="6.5"/><circle cx="781" cy="480.2" r="6.5"/><circle cx="778.5" cy="498.1" r="6.5"/><circle cx="785.2" cy="527.4" r="6.5"/><circle cx="768.6" cy="552.8" r="6.5"/><circle cx="765.3" cy="571.8" r="6.5"/><circle cx="762" cy="589.2" r="6.5"/><circle cx="759.5" cy="607.6" r="6.5"/><circle cx="749.5" cy="662.3" r="6.5"/><circle cx="740.4" cy="717.6" r="6.5"/>
<circle cx="738.3" cy="736.6" r="6.5"/><circle cx="735.8" cy="754.5" r="6.5"/><circle cx="734.2" cy="772.4" r="6.5"/><circle cx="731.3" cy="790.8" r="6.5"/><circle cx="593.3" cy="848.7" r="6.5"/><circle cx="581.3" cy="868.2" r="6.5"/><circle cx="591" cy="884.3" r="6.5"/><circle cx="707.1" cy="851" r="6.5"/><circle cx="783.5" cy="846.6" r="6.5"/><circle cx="860.2" cy="857.5" r="6.5"/>
<circle cx="933.2" cy="881.8" r="6.5"/><circle cx="1000.3" cy="919.8" r="6.5"/><circle cx="1058.4" cy="968.6" r="6.5"/><circle cx="1070.8" cy="956" r="6.5"/><circle cx="1084.5" cy="942.5" r="6.5"/><circle cx="1092.8" cy="922" r="6.5"/><circle cx="1113" cy="909" r="6.5"/><circle cx="1135" cy="917" r="6.5"/><circle cx="1142" cy="939.8" r="6.5"/><circle cx="1129.7" cy="960" r="6.5"/>
<circle cx="1108" cy="967" r="6.5"/><circle cx="1094.4" cy="980.5" r="6.5"/><circle cx="1081" cy="993" r="6.5"/><circle cx="1178.3" cy="1268.3" r="6.5"/><circle cx="1142.9" cy="1429.3" r="6.5"/><circle cx="1159.3" cy="1437" r="6.5"/><circle cx="1176.5" cy="1443.5" r="6.5"/><circle cx="1191.8" cy="1450.4" r="6.5"/><circle cx="1209.1" cy="1457.3" r="6.5"/><circle cx="1313.2" cy="1502.8" r="6.5"/>
<circle cx="1330.8" cy="1509.7" r="6.5"/><circle cx="1360.2" cy="1509.7" r="6.5"/><circle cx="1382.1" cy="1531.9" r="6.5"/><circle cx="1399.7" cy="1538.4" r="6.5"/><circle cx="1429.1" cy="1538.4" r="6.5"/><circle cx="1450.2" cy="1560.2" r="6.5"/><circle cx="1467.4" cy="1567.9" r="6.5"/><circle cx="1485.4" cy="1575.5" r="6.5"/><circle cx="1501.8" cy="1581.3" r="6.5"/><circle cx="1554.6" cy="1544.9" r="6.5"/>
<circle cx="1571.9" cy="1537.2" r="6.5"/><circle cx="1589.1" cy="1530.7" r="6.5"/><circle cx="1606.3" cy="1523.8" r="6.5"/><circle cx="1621.2" cy="1505.1" r="6.5"/><circle cx="1645.4" cy="1502" r="6.5"/><circle cx="1663.3" cy="1516.2" r="6.5"/><circle cx="1661.8" cy="1540.3" r="6.5"/><circle cx="1643.4" cy="1554.8" r="6.5"/><circle cx="1619.3" cy="1553.7" r="6.5"/><circle cx="1602.5" cy="1560.2" r="6.5"/>
<circle cx="1584.9" cy="1568.2" r="6.5"/><circle cx="1567.7" cy="1574.7" r="6.5"/><circle cx="1561.2" cy="1602.3" r="6.5"/><circle cx="1551.6" cy="1630.2" r="6.5"/><circle cx="1567.7" cy="1637.9" r="6.5"/><circle cx="1584.9" cy="1645.5" r="6.5"/><circle cx="1602.1" cy="1654.3" r="6.5"/><circle cx="1617.8" cy="1663.5" r="6.5"/><circle cx="1648.4" cy="1665.4" r="6.5"/><circle cx="1668.3" cy="1687.7" r="6.5"/>
<circle cx="1684.3" cy="1696.7" r="6.5"/><circle cx="1701" cy="1705" r="6.5"/><circle cx="1718.3" cy="1712.7" r="6.5"/><circle cx="1854" cy="1779.3" r="6.5"/><circle cx="1870" cy="1787.7" r="6.5"/><circle cx="1901" cy="1789" r="6.5"/><circle cx="1921.7" cy="1811.7" r="6.5"/><circle cx="1937.7" cy="1819" r="6.5"/><circle cx="1955" cy="1826.7" r="6.5"/><circle cx="1966.7" cy="1821.7" r="6.5"/>
<circle cx="1978.3" cy="1816.7" r="6.5"/><circle cx="1996.7" cy="1820" r="6.5"/><circle cx="2014.3" cy="1824" r="6.5"/><circle cx="2032.3" cy="1828.3" r="6.5"/><circle cx="2050" cy="1830.7" r="6.5"/><circle cx="2141" cy="1850.7" r="6.5"/><circle cx="2171" cy="1844" r="6.5"/><circle cx="2196.7" cy="1860.7" r="6.5"/><circle cx="2215" cy="1865" r="6.5"/><circle cx="2233.3" cy="1867.7" r="6.5"/>
<circle cx="2251" cy="1871.7" r="6.5"/><circle cx="2273.3" cy="1859" r="6.5"/><circle cx="2309" cy="1866.7" r="6.5"/><circle cx="2325" cy="1886.7" r="6.5"/><circle cx="2343.3" cy="1890" r="6.5"/><circle cx="2361.7" cy="1894" r="6.5"/><circle cx="2454" cy="1911.7" r="6.5"/><circle cx="2471.7" cy="1914" r="6.5"/><circle cx="2490" cy="1917" r="6.5"/><circle cx="2486" cy="1950" r="6.5"/>
<circle cx="2467.7" cy="1946.7" r="6.5"/><circle cx="2449" cy="1942.3" r="6.5"/><circle cx="2431" cy="1958.3" r="6.5"/><circle cx="2395.7" cy="1965" r="6.5"/><circle cx="2365.7" cy="1945" r="6.5"/><circle cx="2355.7" cy="1925.7" r="6.5"/><circle cx="2337.3" cy="1921.7" r="6.5"/><circle cx="2318.3" cy="1918.3" r="6.5"/><circle cx="2296.7" cy="1930.7" r="6.5"/><circle cx="2260" cy="1923.3" r="6.5"/>
<circle cx="2245" cy="1903.3" r="6.5"/><circle cx="2226.7" cy="1900" r="6.5"/><circle cx="2208.3" cy="1896.7" r="6.5"/><circle cx="2190" cy="1893.3" r="6.5"/><circle cx="2160" cy="1899.3" r="6.5"/><circle cx="2135" cy="1882.7" r="6.5"/><circle cx="2117.3" cy="1896.7" r="6.5"/><circle cx="2082.3" cy="1902.7" r="6.5"/><circle cx="2052.3" cy="1883.3" r="6.5"/><circle cx="2042.3" cy="1862.7" r="6.5"/>
<circle cx="2024" cy="1859" r="6.5"/><circle cx="2006.7" cy="1855.7" r="6.5"/><circle cx="1989" cy="1852.3" r="6.5"/><circle cx="1971" cy="1849.3" r="6.5"/><circle cx="1955.7" cy="1871" r="6.5"/><circle cx="1937.7" cy="1893.3" r="6.5"/><circle cx="1951.7" cy="1906" r="6.5"/><circle cx="1965" cy="1919.3" r="6.5"/><circle cx="1978.3" cy="1931" r="6.5"/><circle cx="1992.3" cy="1943.3" r="6.5"/>
<circle cx="2005.7" cy="1955.7" r="6.5"/><circle cx="2019" cy="1968.3" r="6.5"/><circle cx="2033.3" cy="1981" r="6.5"/><circle cx="2046.7" cy="1992.7" r="6.5"/><circle cx="2060" cy="2005.7" r="6.5"/><circle cx="2074" cy="2017.7" r="6.5"/><circle cx="2114.3" cy="2055.7" r="6.5"/><circle cx="2128.3" cy="2069.3" r="6.5"/><circle cx="2142.7" cy="2080.7" r="6.5"/><circle cx="2162.3" cy="2096" r="6.5"/>
<circle cx="2159.3" cy="2119" r="6.5"/><circle cx="2136" cy="2124" r="6.5"/><circle cx="2120" cy="2104.3" r="6.5"/><circle cx="2106" cy="2091.7" r="6.5"/><circle cx="2093.3" cy="2080" r="6.5"/><circle cx="2064" cy="2070" r="6.5"/><circle cx="2051.7" cy="2041.7" r="6.5"/><circle cx="2038.3" cy="2030" r="6.5"/><circle cx="2025" cy="2016.7" r="6.5"/><circle cx="2011" cy="2004.3" r="6.5"/>
<circle cx="1997.7" cy="1991.7" r="6.5"/><circle cx="1984" cy="1979.3" r="6.5"/><circle cx="1970" cy="1966.7" r="6.5"/><circle cx="1956.7" cy="1954.3" r="6.5"/><circle cx="1943.3" cy="1942.3" r="6.5"/><circle cx="1929.3" cy="1929.3" r="6.5"/><circle cx="1915" cy="1916.7" r="6.5"/><circle cx="1920.7" cy="1866.7" r="6.5"/><circle cx="1941" cy="1856.7" r="6.5"/><circle cx="1924" cy="1849" r="6.5"/>
<circle cx="1907.7" cy="1841" r="6.5"/><circle cx="1877.3" cy="1840" r="6.5"/><circle cx="1857.3" cy="1817.7" r="6.5"/><circle cx="1840" cy="1810" r="6.5"/><circle cx="1825.7" cy="1821.7" r="6.5"/><circle cx="1794" cy="1836" r="6.5"/><circle cx="1760" cy="1836" r="6.5"/><circle cx="1729.3" cy="1820.7" r="6.5"/><circle cx="1708.3" cy="1793.3" r="6.5"/><circle cx="1701" cy="1761" r="6.5"/>
<circle cx="1702.7" cy="1741.7" r="6.5"/><circle cx="1686" cy="1733.3" r="6.5"/><circle cx="1670" cy="1726" r="6.5"/><circle cx="1653.3" cy="1717.3" r="6.5"/><circle cx="1621.6" cy="1714.4" r="6.5"/><circle cx="1603.3" cy="1692.2" r="6.5"/><circle cx="1586.8" cy="1683.8" r="6.5"/><circle cx="1569.6" cy="1675" r="6.5"/><circle cx="1553.5" cy="1666.6" r="6.5"/><circle cx="1536.3" cy="1658.9" r="6.5"/>
<circle cx="1506.4" cy="1629.1" r="6.5"/><circle cx="1490.4" cy="1613" r="6.5"/><circle cx="1472" cy="1605.4" r="6.5"/><circle cx="1455.1" cy="1598.5" r="6.5"/><circle cx="1437.9" cy="1590.8" r="6.5"/><circle cx="1408.1" cy="1590.8" r="6.5"/><circle cx="1387" cy="1568.2" r="6.5"/><circle cx="1369.8" cy="1561.4" r="6.5"/><circle cx="1339.2" cy="1561.4" r="6.5"/><circle cx="1318.1" cy="1539.5" r="6.5"/>
<circle cx="1300.9" cy="1532.6" r="6.5"/><circle cx="1283.7" cy="1545.3" r="6.5"/><circle cx="1248.5" cy="1552.9" r="6.5"/><circle cx="1216.7" cy="1538.4" r="6.5"/><circle cx="1198.4" cy="1507.8" r="6.5"/><circle cx="1195.7" cy="1487.5" r="6.5"/><circle cx="1179.2" cy="1480.2" r="6.5"/><circle cx="1163.1" cy="1472.6" r="6.5"/><circle cx="1145.9" cy="1465.7" r="6.5"/><circle cx="1129.5" cy="1458.8" r="6.5"/>
<circle cx="1029.3" cy="1579.3" r="6.5"/><circle cx="949.3" cy="1631.7" r="6.5"/><circle cx="859.3" cy="1663.3" r="6.5"/>
</g>
<g class="nt">
<text x="707.3" y="1670" class="o">A</text><text x="677.3" y="1665.3" class="p">G</text><text x="649.3" y="1657.3" class="p">T</text><text x="621.7" y="1648.3" class="p">T</text><text x="594.3" y="1637.3" class="p">A</text><text x="567.7" y="1623.3" class="p">T</text><text x="542.3" y="1609.3" class="b">C</text><text x="517.7" y="1592.3" class="y">A</text><text x="495" y="1574" class="y">T</text><text x="473.3" y="1554" class="p">C</text>
<text x="460" y="1567.3" class="p">T</text><text x="449.3" y="1608.3" class="g">A</text><text x="408.3" y="1620.7" class="p">G</text><text x="395" y="1633.3" class="p">A</text><text x="381.7" y="1646.7" class="p">A</text><text x="369" y="1659.3" class="p">T</text><text x="356" y="1672.7" class="p">A</text><text x="410.7" y="1719.3" class="p">A</text><text x="465.7" y="1766.7" class="p">C</text><text x="460" y="1785" class="p">A</text>
<text x="461" y="1809.3" class="p">G</text><text x="444" y="1825" class="p">C</text><text x="421.3" y="1819" class="s">A</text><text x="416" y="1795.3" class="b">G</text><text x="429" y="1776" class="p">T</text><text x="434" y="1758.3" class="p">G</text><text x="411" y="1745.7" class="p">G</text><text x="385" y="1731.7" class="y">A</text><text x="361.3" y="1715.7" class="l">G</text><text x="350" y="1729.3" class="g">C</text>
<text x="339" y="1745" class="g">C</text><text x="329" y="1759.3" class="g">C</text><text x="324" y="1801.7" class="y">A</text><text x="284.6" y="1819.3" class="y">C</text><text x="274.3" y="1834.6" class="y">T</text><text x="263.2" y="1849.6" class="o">C</text><text x="252.9" y="1864.6" class="r">C</text><text x="242.1" y="1879.3" class="r">C</text><text x="231.4" y="1895" class="o">C</text><text x="225" y="1923.6" class="r">T</text>
<text x="199.3" y="1940" class="g">G</text><text x="188.2" y="1955" class="o">T</text><text x="177.9" y="1970" class="r">C</text><text x="166.8" y="1985.4" class="r">A</text><text x="156" y="1999" class="r">C</text><text x="145.7" y="2014" class="o">C</text><text x="132.9" y="2034.6" class="r">C</text><text x="109" y="2034.6" class="r">T</text><text x="102.5" y="2014" class="r">G</text><text x="120.4" y="1995" class="o">G</text>
<text x="130.4" y="1980" class="r">G</text><text x="141" y="1965.7" class="r">T</text><text x="151.8" y="1951.4" class="r">G</text><text x="162.5" y="1936.4" class="o">A</text><text x="173.2" y="1921" class="g">T</text><text x="178.6" y="1890.7" class="r">T</text><text x="206" y="1875.4" class="o">G</text><text x="216.8" y="1861" class="r">G</text><text x="227" y="1846" class="r">G</text><text x="237.5" y="1831" class="o">G</text>
<text x="249" y="1816.4" class="y">A</text><text x="259.6" y="1802.5" class="y">G</text><text x="257" y="1776.4" class="y">C</text><text x="279.6" y="1746" class="o">A</text><text x="302.9" y="1741.8" class="g">G</text><text x="313.6" y="1726.4" class="g">G</text><text x="324.3" y="1711.4" class="g">G</text><text x="335.7" y="1696.8" class="l">C</text><text x="258.9" y="1596.1" class="p">C</text><text x="242.1" y="1604.3" class="p">A</text>
<text x="225" y="1612.9" class="p">G</text><text x="208.9" y="1621.1" class="p">A</text><text x="192.9" y="1628.2" class="p">A</text><text x="175" y="1636.1" class="p">T</text><text x="177.5" y="1657.9" class="p">T</text><text x="173.2" y="1681.8" class="p">C</text><text x="162.5" y="1703.9" class="p">A</text><text x="145.4" y="1722.1" class="p">A</text><text x="123.2" y="1732.9" class="p">C</text><text x="99.3" y="1736.4" class="s">C</text>
<text x="75.7" y="1732.9" class="s">T</text><text x="52.9" y="1721.8" class="g">T</text><text x="35.7" y="1705" class="l">A</text><text x="23.9" y="1682.5" class="s">A</text><text x="20.7" y="1658.6" class="p">C</text><text x="24.3" y="1634.6" class="p">C</text><text x="35" y="1612.9" class="b">T</text><text x="52.5" y="1596.1" class="s">T</text><text x="74.3" y="1584.6" class="p">C</text><text x="98.2" y="1580" class="p">C</text>
<text x="122.5" y="1584.6" class="p">T</text><text x="144.6" y="1594.3" class="p">T</text><text x="160.7" y="1607.9" class="p">A</text><text x="176.8" y="1600.4" class="p">T</text><text x="193.9" y="1591.8" class="p">T</text><text x="210.7" y="1583.6" class="p">C</text><text x="227.1" y="1574.6" class="p">T</text><text x="243.6" y="1566.4" class="p">G</text><text x="282.9" y="1602.5" class="l">T</text><text x="300" y="1618.2" class="y">A</text>
<text x="316" y="1634.3" class="g">G</text><text x="333.2" y="1649.6" class="p">T</text><text x="346.4" y="1637.1" class="p">A</text><text x="358.9" y="1623.9" class="p">T</text><text x="372.5" y="1611.1" class="p">T</text><text x="385.7" y="1597.9" class="p">C</text><text x="386.4" y="1572.9" class="s">A</text><text x="413.2" y="1546.1" class="p">A</text><text x="437.5" y="1544.3" class="p">A</text><text x="450.7" y="1531.1" class="p">G</text>
<text x="390.2" y="1082.9" class="p">G</text><text x="562" y="900.3" class="p">G</text><text x="553.1" y="884.3" class="p">C</text><text x="478" y="948.6" class="p">A</text><text x="405" y="1013.4" class="p">C</text><text x="385.7" y="1012.3" class="p">A</text><text x="366.5" y="1010.6" class="p">G</text><text x="337.9" y="1019.2" class="s">T</text><text x="310.7" y="1004.8" class="s">G</text><text x="292.9" y="1002.5" class="l">A</text>
<text x="275" y="1000.2" class="g">G</text><text x="256.3" y="999.1" class="g">G</text><text x="238.4" y="997.9" class="g">G</text><text x="219.6" y="996.8" class="l">G</text><text x="201.8" y="993.3" class="g">G</text><text x="183.5" y="991.6" class="l">T</text><text x="159.4" y="996.8" class="y">T</text><text x="140.2" y="981.9" class="y">T</text><text x="143.3" y="959.5" class="g">G</text><text x="164.7" y="949.7" class="y">A</text>
<text x="185.7" y="960" class="l">G</text><text x="204.9" y="962.3" class="g">C</text><text x="222.8" y="963.5" class="g">C</text><text x="241.5" y="964.6" class="g">C</text><text x="259.4" y="965.8" class="l">C</text><text x="277.7" y="967.5" class="l">C</text><text x="296.4" y="969.2" class="g">T</text><text x="315.6" y="972.1" class="s">C</text><text x="371" y="977.8" class="p">C</text><text x="389.3" y="979" class="p">T</text>
<text x="407.1" y="980.7" class="p">G</text><text x="417" y="956.6" class="b">G</text><text x="428.1" y="929" class="p">G</text><text x="442.4" y="903.2" class="p">G</text><text x="460.3" y="879.1" class="b">G</text><text x="479.5" y="859" class="p">A</text><text x="467" y="845.8" class="p">A</text><text x="454" y="832.6" class="p">G</text><text x="441" y="818.8" class="p">A</text><text x="428.1" y="805.6" class="p">A</text>
<text x="415.2" y="792.6" class="p">A</text><text x="402.2" y="779.8" class="p">A</text><text x="384.4" y="786.7" class="l">T</text><text x="369.6" y="792.6" class="p">C</text><text x="353.6" y="782.6" class="p">A</text><text x="339.7" y="772.3" class="p">T</text><text x="321.4" y="782.6" class="b">T</text><text x="298.2" y="791.3" class="l">A</text><text x="274.1" y="791.3" class="l">A</text><text x="250.4" y="782.6" class="l">T</text>
<text x="230.8" y="767.2" class="g">A</text><text x="217.4" y="747.1" class="g">T</text><text x="212.9" y="722.4" class="s">T</text><text x="214.7" y="699.4" class="l">A</text><text x="225.9" y="676.5" class="s">A</text><text x="242" y="659.2" class="b">A</text><text x="264.3" y="646.6" class="p">T</text><text x="288.8" y="643.7" class="l">C</text><text x="312" y="647.8" class="s">T</text><text x="333" y="659.2" class="s">C</text>
<text x="350" y="678.2" class="s">A</text><text x="358.9" y="701.1" class="s">T</text><text x="362" y="725.8" class="g">C</text><text x="357.6" y="747.1" class="p">A</text><text x="372.3" y="755.7" class="p">T</text><text x="388" y="766.6" class="p">G</text><text x="408" y="748.2" class="g">T</text><text x="431.3" y="729.9" class="p">C</text><text x="420.5" y="715.5" class="b">C</text><text x="410.3" y="700.6" class="b">A</text>
<text x="399.1" y="685.1" class="b">C</text><text x="389.3" y="670.7" class="p">A</text><text x="363.4" y="654.6" class="l">T</text><text x="356.7" y="625.4" class="p">T</text><text x="345.5" y="611" class="p">C</text><text x="321" y="595" class="p">C</text><text x="315.2" y="564.5" class="p">A</text><text x="304" y="548.5" class="p">G</text><text x="292.9" y="533.5" class="p">G</text><text x="282.1" y="518.6" class="p">A</text>
<text x="262" y="507.1" class="p">G</text><text x="253.1" y="484.7" class="p">G</text><text x="265.2" y="464.6" class="b">G</text><text x="288.4" y="460" class="l">C</text><text x="305.4" y="476.7" class="s">G</text><text x="308.5" y="499.7" class="p">T</text><text x="319.6" y="515.2" class="p">T</text><text x="329.9" y="531.2" class="p">C</text><text x="341.1" y="546.2" class="p">T</text><text x="372.3" y="592.1" class="p">G</text>
<text x="382.6" y="606.4" class="p">A</text><text x="409.4" y="622.5" class="p">C</text><text x="415.6" y="653.5" class="p">T</text><text x="425.9" y="667.9" class="b">G</text><text x="436.2" y="682.8" class="b">T</text><text x="446.9" y="696.6" class="b">G</text><text x="458.9" y="710.9" class="p">G</text><text x="424.6" y="756.8" class="p">T</text><text x="438" y="770" class="p">T</text><text x="451.8" y="783.8" class="p">T</text>
<text x="464.3" y="797" class="p">T</text><text x="477.2" y="809.6" class="p">C</text><text x="490.6" y="821.7" class="p">T</text><text x="503.6" y="835.5" class="p">T</text><text x="620.1" y="786.7" class="l">G</text><text x="698.9" y="785.9" class="p">A</text><text x="701.8" y="767.5" class="p">C</text><text x="704.7" y="750.1" class="p">C</text><text x="707.2" y="732.2" class="p">G</text><text x="709.3" y="712.2" class="p">T</text>
<text x="701.8" y="682.4" class="g">A</text><text x="717.6" y="658" class="p">T</text><text x="711" y="628.2" class="g">A</text><text x="727.5" y="602.7" class="p">A</text><text x="730.8" y="584.3" class="p">C</text><text x="733.7" y="566.4" class="p">C</text><text x="737" y="546.9" class="p">G</text><text x="729.6" y="518.7" class="g">A</text><text x="746.2" y="492.7" class="p">T</text><text x="748.7" y="474.8" class="p">G</text>
<text x="751.6" y="454.7" class="p">G</text><text x="754.9" y="446.6" class="p">G</text><text x="725.9" y="443.4" class="s">T</text><text x="700.6" y="440" class="p">G</text><text x="712.5" y="412.4" class="b">G</text><text x="700.4" y="384.3" class="p">G</text><text x="700.4" y="365.9" class="p">C</text><text x="716" y="348.7" class="p">G</text><text x="719.2" y="324" class="p">G</text><text x="707" y="304.5" class="p">A</text>
<text x="684" y="295.3" class="b">G</text><text x="661.6" y="304.5" class="b">A</text><text x="650" y="324" class="b">G</text><text x="653.6" y="348.7" class="p">G</text><text x="667.4" y="365.9" class="p">G</text><text x="667.4" y="384.3" class="p">C</text><text x="655.8" y="412.4" class="p">G</text><text x="667.4" y="440.5" class="p">T</text><text x="783.9" y="450.4" class="p">T</text><text x="813.8" y="457.5" class="p">T</text>
<text x="842" y="465.6" class="p">G</text><text x="847" y="448.2" class="p">A</text><text x="851" y="430.4" class="p">A</text><text x="856" y="412" class="p">G</text><text x="842" y="396.7" class="s">A</text><text x="833.3" y="373.4" class="b">T</text><text x="834.5" y="349" class="b">G</text><text x="847" y="328" class="p">C</text><text x="866.4" y="313.3" class="b">C</text><text x="889.6" y="310" class="s">A</text>
<text x="913.7" y="316.5" class="s">T</text><text x="931" y="332.2" class="l">T</text><text x="940.2" y="355" class="l">T</text><text x="939.4" y="378.9" class="l">T</text><text x="927" y="400.5" class="s">T</text><text x="907.9" y="415.2" class="p">C</text><text x="887" y="420.6" class="p">C</text><text x="882" y="438.5" class="p">T</text><text x="878" y="455.8" class="p">T</text><text x="873" y="474.8" class="p">C</text>
<text x="783.9" y="461.2" class="p">C</text><text x="781" y="480.2" class="p">C</text><text x="778.5" y="498.1" class="p">A</text><text x="785.2" y="527.4" class="g">G</text><text x="768.6" y="552.8" class="p">C</text><text x="765.3" y="571.8" class="p">G</text><text x="762" y="589.2" class="p">G</text><text x="759.5" y="607.6" class="p">T</text><text x="749.5" y="662.3" class="p">A</text><text x="740.4" y="717.6" class="p">A</text>
<text x="738.3" y="736.6" class="p">C</text><text x="735.8" y="754.5" class="p">G</text><text x="734.2" y="772.4" class="p">G</text><text x="731.3" y="790.8" class="p">T</text><text x="593.3" y="848.7" class="p">G</text><text x="581.3" y="868.2" class="p">G</text><text x="591" y="884.3" class="p">C</text><text x="707.1" y="851" class="p">G</text><text x="783.5" y="846.6" class="p">G</text><text x="860.2" y="857.5" class="p">G</text>
<text x="933.2" y="881.8" class="b">G</text><text x="1000.3" y="919.8" class="p">G</text><text x="1058.4" y="968.6" class="p">T</text><text x="1070.8" y="956" class="p">G</text><text x="1084.5" y="942.5" class="p">G</text><text x="1092.8" y="922" class="g">A</text><text x="1113" y="909" class="l">C</text><text x="1135" y="917" class="l">G</text><text x="1142" y="939.8" class="y">A</text><text x="1129.7" y="960" class="p">G</text>
<text x="1108" y="967" class="p">C</text><text x="1094.4" y="980.5" class="p">C</text><text x="1081" y="993" class="p">A</text><text x="1178.3" y="1268.3" class="g">G</text><text x="1142.9" y="1429.3" class="p">G</text><text x="1159.3" y="1437" class="p">G</text><text x="1176.5" y="1443.5" class="p">G</text><text x="1191.8" y="1450.4" class="p">C</text><text x="1209.1" y="1457.3" class="p">G</text><text x="1313.2" y="1502.8" class="b">G</text>
<text x="1330.8" y="1509.7" class="b">C</text><text x="1360.2" y="1509.7" class="g">G</text><text x="1382.1" y="1531.9" class="s">G</text><text x="1399.7" y="1538.4" class="s">C</text><text x="1429.1" y="1538.4" class="y">G</text><text x="1450.2" y="1560.2" class="s">G</text><text x="1467.4" y="1567.9" class="s">A</text><text x="1485.4" y="1575.5" class="s">G</text><text x="1501.8" y="1581.3" class="s">G</text><text x="1554.6" y="1544.9" class="p">A</text>
<text x="1571.9" y="1537.2" class="l">T</text><text x="1589.1" y="1530.7" class="l">C</text><text x="1606.3" y="1523.8" class="l">T</text><text x="1621.2" y="1505.1" class="g">G</text><text x="1645.4" y="1502" class="g">G</text><text x="1663.3" y="1516.2" class="g">C</text><text x="1661.8" y="1540.3" class="g">C</text><text x="1643.4" y="1554.8" class="g">A</text><text x="1619.3" y="1553.7" class="l">A</text><text x="1602.5" y="1560.2" class="l">G</text>
<text x="1584.9" y="1568.2" class="l">A</text><text x="1567.7" y="1574.7" class="p">T</text><text x="1561.2" y="1602.3" class="g">G</text><text x="1551.6" y="1630.2" class="s">G</text><text x="1567.7" y="1637.9" class="s">C</text><text x="1584.9" y="1645.5" class="s">T</text><text x="1602.1" y="1654.3" class="s">G</text><text x="1617.8" y="1663.5" class="b">C</text><text x="1648.4" y="1665.4" class="b">G</text><text x="1668.3" y="1687.7" class="p">G</text>
<text x="1684.3" y="1696.7" class="p">G</text><text x="1701" y="1705" class="p">G</text><text x="1718.3" y="1712.7" class="p">G</text><text x="1854" y="1779.3" class="p">C</text><text x="1870" y="1787.7" class="b">G</text><text x="1901" y="1789" class="g">G</text><text x="1921.7" y="1811.7" class="s">T</text><text x="1937.7" y="1819" class="s">G</text><text x="1955" y="1826.7" class="b">T</text><text x="1966.7" y="1821.7" class="g">C</text>
<text x="1978.3" y="1816.7" class="l">T</text><text x="1996.7" y="1820" class="g">T</text><text x="2014.3" y="1824" class="g">C</text><text x="2032.3" y="1828.3" class="g">G</text><text x="2050" y="1830.7" class="b">T</text><text x="2141" y="1850.7" class="b">C</text><text x="2171" y="1844" class="y">T</text><text x="2196.7" y="1860.7" class="b">G</text><text x="2215" y="1865" class="b">C</text><text x="2233.3" y="1867.7" class="p">G</text>
<text x="2251" y="1871.7" class="p">G</text><text x="2273.3" y="1859" class="g">A</text><text x="2309" y="1866.7" class="y">A</text><text x="2325" y="1886.7" class="p">A</text><text x="2343.3" y="1890" class="p">C</text><text x="2361.7" y="1894" class="p">G</text><text x="2454" y="1911.7" class="p">C</text><text x="2471.7" y="1914" class="p">C</text><text x="2490" y="1917" class="p">G</text><text x="2486" y="1950" class="p">C</text>
<text x="2467.7" y="1946.7" class="p">G</text><text x="2449" y="1942.3" class="p">G</text><text x="2431" y="1958.3" class="s">A</text><text x="2395.7" y="1965" class="y">T</text><text x="2365.7" y="1945" class="y">A</text><text x="2355.7" y="1925.7" class="p">C</text><text x="2337.3" y="1921.7" class="p">G</text><text x="2318.3" y="1918.3" class="p">T</text><text x="2296.7" y="1930.7" class="l">C</text><text x="2260" y="1923.3" class="l">A</text>
<text x="2245" y="1903.3" class="p">T</text><text x="2226.7" y="1900" class="p">C</text><text x="2208.3" y="1896.7" class="b">G</text><text x="2190" y="1893.3" class="b">C</text><text x="2160" y="1899.3" class="l">T</text><text x="2135" y="1882.7" class="b">G</text><text x="2117.3" y="1896.7" class="b">A</text><text x="2082.3" y="1902.7" class="y">A</text><text x="2052.3" y="1883.3" class="o">A</text><text x="2042.3" y="1862.7" class="b">A</text>
<text x="2024" y="1859" class="g">C</text><text x="2006.7" y="1855.7" class="g">G</text><text x="1989" y="1852.3" class="g">A</text><text x="1971" y="1849.3" class="l">A</text><text x="1955.7" y="1871" class="o">A</text><text x="1937.7" y="1893.3" class="y">G</text><text x="1951.7" y="1906" class="o">A</text><text x="1965" y="1919.3" class="o">A</text><text x="1978.3" y="1931" class="r">G</text><text x="1992.3" y="1943.3" class="r">T</text>
<text x="2005.7" y="1955.7" class="r">G</text><text x="2019" y="1968.3" class="r">C</text><text x="2033.3" y="1981" class="r">G</text><text x="2046.7" y="1992.7" class="r">C</text><text x="2060" y="2005.7" class="o">T</text><text x="2074" y="2017.7" class="b">G</text><text x="2114.3" y="2055.7" class="l">T</text><text x="2128.3" y="2069.3" class="l">A</text><text x="2142.7" y="2080.7" class="s">A</text><text x="2162.3" y="2096" class="o">G</text>
<text x="2159.3" y="2119" class="o">T</text><text x="2136" y="2124" class="r">A</text><text x="2120" y="2104.3" class="s">T</text><text x="2106" y="2091.7" class="l">T</text><text x="2093.3" y="2080" class="l">A</text><text x="2064" y="2070" class="b">C</text><text x="2051.7" y="2041.7" class="b">C</text><text x="2038.3" y="2030" class="o">A</text><text x="2025" y="2016.7" class="r">G</text><text x="2011" y="2004.3" class="r">C</text>
<text x="1997.7" y="1991.7" class="r">G</text><text x="1984" y="1979.3" class="r">C</text><text x="1970" y="1966.7" class="r">A</text><text x="1956.7" y="1954.3" class="r">C</text><text x="1943.3" y="1942.3" class="o">T</text><text x="1929.3" y="1929.3" class="o">T</text><text x="1915" y="1916.7" class="y">C</text><text x="1920.7" y="1866.7" class="g">G</text><text x="1941" y="1856.7" class="b">G</text><text x="1924" y="1849" class="s">C</text>
<text x="1907.7" y="1841" class="s">A</text><text x="1877.3" y="1840" class="l">G</text><text x="1857.3" y="1817.7" class="b">C</text><text x="1840" y="1810" class="p">G</text><text x="1825.7" y="1821.7" class="b">G</text><text x="1794" y="1836" class="p">C</text><text x="1760" y="1836" class="l">A</text><text x="1729.3" y="1820.7" class="p">G</text><text x="1708.3" y="1793.3" class="p">C</text><text x="1701" y="1761" class="g">A</text>
<text x="1702.7" y="1741.7" class="p">C</text><text x="1686" y="1733.3" class="p">C</text><text x="1670" y="1726" class="p">T</text><text x="1653.3" y="1717.3" class="p">C</text><text x="1621.6" y="1714.4" class="l">G</text><text x="1603.3" y="1692.2" class="b">G</text><text x="1586.8" y="1683.8" class="s">C</text><text x="1569.6" y="1675" class="s">A</text><text x="1553.5" y="1666.6" class="s">G</text><text x="1536.3" y="1658.9" class="s">C</text>
<text x="1506.4" y="1629.1" class="g">A</text><text x="1490.4" y="1613" class="s">C</text><text x="1472" y="1605.4" class="s">C</text><text x="1455.1" y="1598.5" class="s">T</text><text x="1437.9" y="1590.8" class="s">C</text><text x="1408.1" y="1590.8" class="y">A</text><text x="1387" y="1568.2" class="s">G</text><text x="1369.8" y="1561.4" class="s">C</text><text x="1339.2" y="1561.4" class="g">A</text><text x="1318.1" y="1539.5" class="b">G</text>
<text x="1300.9" y="1532.6" class="b">C</text><text x="1283.7" y="1545.3" class="l">A</text><text x="1248.5" y="1552.9" class="g">A</text><text x="1216.7" y="1538.4" class="s">C</text><text x="1198.4" y="1507.8" class="l">A</text><text x="1195.7" y="1487.5" class="p">T</text><text x="1179.2" y="1480.2" class="p">G</text><text x="1163.1" y="1472.6" class="p">C</text><text x="1145.9" y="1465.7" class="p">C</text><text x="1129.5" y="1458.8" class="p">C</text>
<text x="1029.3" y="1579.3" class="y">A</text><text x="949.3" y="1631.7" class="s">G</text><text x="859.3" y="1663.3" class="s">C</text>
</g>
<g class="lb">
<text x="523.3" y="1803.3">20</text><text x="403.5" y="1769.3">30</text><text x="278.6" y="1962.9">40</text><text x="66.8" y="1956.8">50</text><text x="184.6" y="1793.2">60</text><text x="272" y="1662.9">70</text><text x="99.3" y="1802.5">80</text><text x="98.9" y="1514.6">90</text><text x="344.5" y="1571">100</text><text x="403.5" y="1485.2">110</text>
<text x="285.3" y="1068">120</text><text x="171.4" y="884.3">130</text><text x="396.9" y="913.5">140</text><text x="380.4" y="852.7">150</text><text x="217" y="838.9">160</text><text x="227.2" y="555.3">190</text><text x="426.8" y="554.2">200</text><text x="497.3" y="737.9">210</text><text x="643.8" y="703.4">220</text><text x="683.2" y="464">230</text>
<text x="748.7" y="253.1">240</text><text x="893.8" y="243.4">260</text><text x="936" y="492.7">270</text><text x="815" y="672.6">280</text><text x="786.8" y="781.6">290</text><text x="1209" y="947">300</text><text x="1235.9" y="1397.6">310</text><text x="1526.7" y="1521.2">320</text><text x="1645.4" y="1613.8">330</text><text x="1677.9" y="1607.3">340</text>
<text x="1982.3" y="1766.7">350</text><text x="2227.7" y="1800">360</text><text x="2341.7" y="1990">380</text><text x="2121.7" y="1946.7">390</text><text x="2118.3" y="1970">410</text><text x="2018.3" y="2117.7">420</text><text x="1884" y="1977.7">430</text><text x="1808.3" y="1901">440</text><text x="1573.8" y="1750.8">450</text><text x="1382.4" y="1652">460</text>
<text x="1169.7" y="1548">470</text>
</g>
<g class="lg">
<text x="390" y="2833" class="r" textLength="715" lengthAdjust="spacingAndGlyphs">Probability &gt;= 99%</text>
<text x="155" y="2908" class="o" textLength="950" lengthAdjust="spacingAndGlyphs">99% &gt; Probability &gt;= 95%</text>
<text x="155" y="2983" class="y" textLength="950" lengthAdjust="spacingAndGlyphs">95% &gt; Probability &gt;= 90%</text>
<text x="155" y="3058" class="g" textLength="950" lengthAdjust="spacingAndGlyphs">90% &gt; Probability &gt;= 80%</text>
<text x="155" y="3133" class="l" textLength="950" lengthAdjust="spacingAndGlyphs">80% &gt; Probability &gt;= 70%</text>
<text x="155" y="3208" class="s" textLength="950" lengthAdjust="spacingAndGlyphs">70% &gt; Probability &gt;= 60%</text>
<text x="155" y="3283" class="b" textLength="950" lengthAdjust="spacingAndGlyphs">60% &gt; Probability &gt;= 50%</text>
<text x="155" y="3358" class="p" textLength="673" lengthAdjust="spacingAndGlyphs">50% &gt; Probability</text>
<text x="151" y="3454" class="k" textLength="1313" lengthAdjust="spacingAndGlyphs">ENERGY = -94.0  12/31/25 15:24:28</text>
</g>
</svg>
</body></html>
